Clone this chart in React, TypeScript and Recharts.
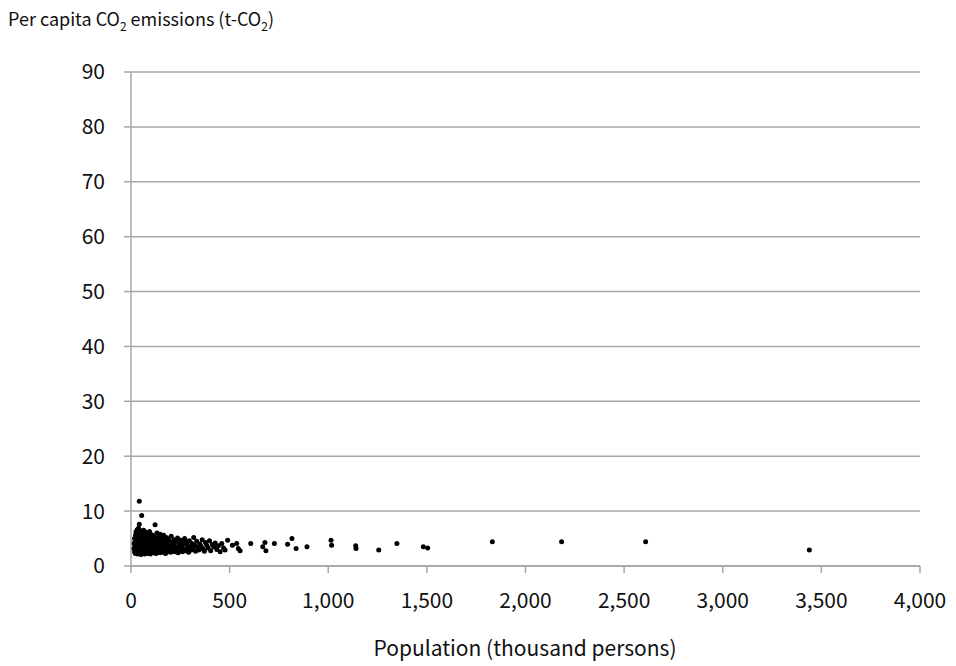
import { ScatterChart, Scatter, XAxis, YAxis, CartesianGrid } from 'recharts'

// population (thousand persons) and per-capita CO2 (t-CO2)
const population = [
  15, 16, 18, 18, 20, 21, 22, 23, 24, 25, 26, 27, 28, 29, 30, 30, 31, 32, 33, 34, 35, 35, 36, 37, 38, 38, 39, 40, 40, 41,
  42, 42, 43, 44, 45, 45, 46, 47, 48, 48, 49, 50, 50, 51, 52, 53, 54, 54, 55, 56, 57, 57, 58, 59, 60, 60,
  61, 62, 63, 64, 65, 66, 67, 68, 69, 70, 71, 72, 73, 74, 75, 76, 77, 78, 79, 80, 81, 82, 83, 84, 85, 86, 87, 88, 89, 90,
  91, 92, 93, 94, 95, 96, 97, 98, 99, 100, 101, 102, 104, 105, 106, 108, 109, 110,
  112, 113, 115, 116, 118, 120, 122, 122, 124, 126, 127, 129, 131, 132, 134, 136, 138, 139, 141, 143, 145, 147, 148, 150,
  152, 154, 156, 158, 160, 162, 164, 166, 168, 170, 172, 175, 177, 179, 181, 184, 186, 188, 191, 193, 196, 198,
  201, 204, 207, 210, 213, 216, 219, 222, 226, 229, 232, 236, 239, 243, 246, 250, 253, 257, 261, 264, 268, 272, 276, 280,
  284, 288, 292, 296, 300, 305, 309, 314, 318, 323, 327,
  333, 338, 344, 349, 355, 361, 366, 372, 378, 384, 391, 398, 404, 412, 419, 427, 435, 443, 452, 460, 469, 477, 490, 514,
  536, 544, 553,
  42, 607, 668, 679, 684, 727, 794, 816, 837, 892, 1014, 1017, 1139, 1141, 1256, 1348, 1482, 1504, 1832, 2183, 2609, 3439,
]

const emissions = [
  3.2, 4.1, 2.6, 5.0, 3.6, 4.4, 2.3, 5.6, 3.0, 6.2, 4.8, 2.8, 3.9, 5.3, 2.5, 4.2, 6.6, 3.3, 5.9, 2.2, 4.6, 3.7, 2.9, 5.1, 6.9, 3.4, 2.4, 4.3, 5.5, 3.1,
  7.6, 2.7, 4.9, 3.8, 6.1, 2.3, 4.0, 5.7, 3.2, 2.6, 4.5, 6.4, 3.5, 2.1, 5.2, 4.1, 9.2, 3.0, 2.5, 4.7, 6.0, 3.6, 2.8, 5.4, 4.2, 3.3,
  2.4, 5.0, 3.9, 6.5, 2.9, 4.4, 3.2, 5.8, 2.2, 4.0, 3.5, 6.2, 2.7, 4.8, 3.1, 5.3, 2.5, 3.8, 4.5, 2.9, 6.0, 3.4, 4.2, 2.3, 5.1, 3.7, 2.6, 4.6, 3.0, 5.6,
  2.4, 4.1, 3.3, 6.3, 2.8, 4.9, 3.6, 2.2, 5.2, 3.9, 2.7, 4.4, 3.1, 5.7, 2.5, 4.0, 3.4, 2.9,
  4.8, 3.6, 2.4, 5.5, 3.0, 4.3, 7.5, 2.7, 3.8, 5.0, 2.3, 4.5, 3.3, 6.0, 2.6, 4.1, 3.5, 5.3, 2.9, 4.7, 3.2, 2.4, 5.8, 3.9,
  2.8, 4.4, 3.4, 5.1, 2.5, 4.0, 3.1, 5.6, 2.7, 4.6, 3.6, 2.3, 4.2, 5.2, 3.0, 3.8, 2.6, 4.9, 3.3, 2.9, 4.5, 3.7,
  2.5, 5.4, 3.2, 4.3, 2.8, 3.9, 4.8, 2.6, 3.5, 4.5, 3.0, 5.1, 2.4, 4.0, 3.4, 2.9, 4.7, 3.7, 2.6, 4.2, 3.1, 5.0, 2.8, 3.9,
  4.4, 3.3, 2.5, 4.6, 3.6, 2.9, 4.1, 3.2, 5.2, 3.8, 2.7,
  4.5, 3.4, 2.9, 4.0, 3.6, 4.8, 3.1, 2.7, 4.3, 3.8, 3.3, 4.6, 2.8, 3.9, 3.5, 4.2, 3.0, 3.7, 2.6, 4.1, 3.3, 2.9, 4.7, 3.8,
  4.1, 3.2, 2.8,
  11.8, 4.1, 3.5, 4.3, 2.8, 4.1, 3.95, 5.0, 3.2, 3.5, 4.7, 3.8, 3.7, 3.2, 2.9, 4.1, 3.5, 3.3, 4.4, 4.4, 4.4, 2.9,
]

const xTicks = [0, 500, 1000, 1500, 2000, 2500, 3000, 3500, 4000]
const yTicks = [0, 10, 20, 30, 40, 50, 60, 70, 80, 90]

const points = population.map((p, i) => ({ pop: p, co2: emissions[i] }))

const FONT = '"Noto Sans CJK JP", "Noto Sans", sans-serif'
const GRAY = '#a6a6a6'

const Dot = (props: any) => <circle cx={props.cx} cy={props.cy} r={2.5} fill="#000" />

export default function App() {
  return (
    <div style={{ position: 'absolute', left: 0, top: 0, width: 956, height: 666, background: '#fff', fontFamily: FONT }}>
      <div style={{ position: 'absolute', left: 8, top: 5, fontSize: 18, color: '#111', whiteSpace: 'nowrap' }}>
        Per capita CO<sub style={{ fontSize: 12 }}>2</sub> emissions (t-CO<sub style={{ fontSize: 12 }}>2</sub>)
      </div>
      <ScatterChart width={956} height={666} margin={{ top: 72, right: 36, bottom: 40, left: 0 }}>
        <CartesianGrid horizontal vertical={false} stroke={GRAY} strokeWidth={1.5} />
        <XAxis
          type="number"
          dataKey="pop"
          domain={[0, 4000]}
          ticks={xTicks}
          interval={0}
          height={60}
          tickFormatter={(v: number) => v.toLocaleString('en-US')}
          tick={{ fill: '#111', fontSize: 21, fontFamily: FONT }}
          stroke={GRAY}
          strokeWidth={1.5}
          tickSize={7}
          tickMargin={20}
        />
        <YAxis
          type="number"
          dataKey="co2"
          domain={[0, 90]}
          ticks={yTicks}
          interval={0}
          width={131}
          tick={{ fill: '#111', fontSize: 21, fontFamily: FONT }}
          stroke={GRAY}
          strokeWidth={1.5}
          tickSize={7}
          tickMargin={19}
        />
        <Scatter data={points} shape={Dot} isAnimationActive={false} />
      </ScatterChart>
      <div style={{ position: 'absolute', left: 0, width: 1050, top: 632, textAlign: 'center', fontSize: 21, color: '#111' }}>
        Population (thousand persons)
      </div>
    </div>
  )
}
